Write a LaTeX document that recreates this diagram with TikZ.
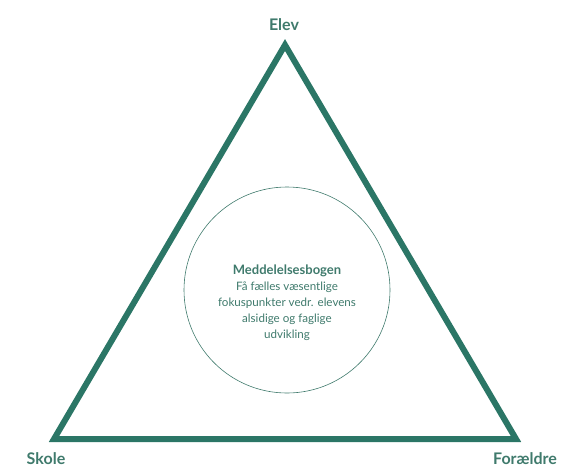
\documentclass[tikz,border=0pt]{standalone}
\usepackage{fontspec}
\setmainfont{Lato}
\usepackage{xcolor}
\usepackage{tikz}

\definecolor{triGreen}{HTML}{2B7666}
\definecolor{textGreen}{HTML}{3F7A6C}

\begin{document}
\begin{tikzpicture}[x=1pt,y=-1pt]

        \useasboundingbox (0,0) rectangle (562,469);

        % ---------- Triangle ----------
        \coordinate (Top) at (285,45);
        \coordinate (Left) at (54,439);
        \coordinate (Right) at (516,439);

        \draw[triGreen, line width=6pt, line join=miter] (Top) -- (Left) -- (Right) -- cycle;

        % corner labels
        \node[font=\bfseries\fontsize{16}{18}\selectfont, text=textGreen] (Elev) at (284,25) {Elev};
        \node[font=\bfseries\fontsize{16}{18}\selectfont, text=textGreen] (Skole) at (46,459) {Skole};
        \node[font=\bfseries\fontsize{16}{18}\selectfont, text=textGreen] (Foraeldre) at (525,459) {Forældre};

        % ---------- Circle ----------
        \coordinate (Mid) at (287,290);
        \draw[textGreen, line width=0.6pt] (Mid) circle (103);

        % text in circle
        \node[align=center, text=textGreen, font=\fontsize{11.6}{16}\selectfont] (Bogen) at (287,303)
            {{\fontsize{13}{16}\selectfont\textbf{Meddelelsesbogen}}\\Få fælles væsentlige\\fokuspunkter vedr. elevens\\alsidige og faglige\\udvikling};

\end{tikzpicture}
\end{document}
